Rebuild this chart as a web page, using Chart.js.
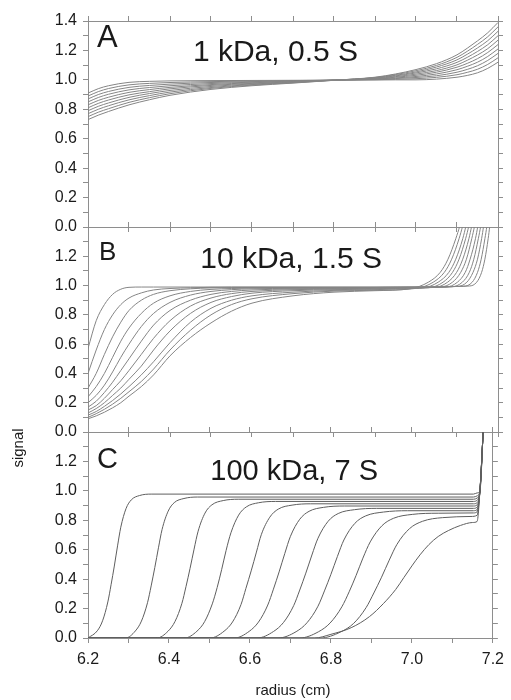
<!DOCTYPE html>
<html>
<head>
<meta charset="utf-8">
<script src="https://cdn.jsdelivr.net/npm/chart.js@4.4.1/dist/chart.umd.min.js"></script>
<style>
  html, body { margin: 0; padding: 0; background: #fff; }
  #wrap { position: relative; width: 511px; height: 700px; background: #fff; }
  #wrap canvas { position: absolute; left: 0; top: 0; }
</style>
</head>
<body>
<div id="wrap">
  <canvas id="panelA" width="511" height="700"></canvas>
  <canvas id="panelB" width="511" height="700"></canvas>
  <canvas id="panelC" width="511" height="700"></canvas>
</div>
<script>
// ---- tick labels ----
const radiusLabels = ['6.2', '6.4', '6.6', '6.8', '7.0', '7.2'];
const signalLabelsTop = ['0.0', '0.2', '0.4', '0.6', '0.8', '1.0', '1.2', '1.4'];
const signalLabels = ['0.0', '0.2', '0.4', '0.6', '0.8', '1.0', '1.2'];

// ---- panel A: 1 kDa, 0.5 S (scans on a shared radius grid) ----
const radiusA = [6.20, 6.225, 6.25, 6.30, 6.35, 6.40, 6.50, 6.60, 6.70, 6.80, 6.90, 6.95, 7.00, 7.05, 7.10, 7.125, 7.15, 7.175, 7.20];
const signalA = [
  [.910, .940, .960, .983, .990, .993, .995, .996, .997, .998, .999, 1.000, 1.000, 1.005, 1.018, 1.030, 1.048, 1.078, 1.120],
  [.890, .920, .941, .966, .976, .982, .988, .992, .995, .998, 1.001, 1.004, 1.008, 1.017, 1.035, 1.051, 1.072, 1.105, 1.150],
  [.870, .900, .921, .949, .962, .971, .982, .988, .993, .998, 1.003, 1.009, 1.016, 1.028, 1.052, 1.071, 1.096, 1.132, 1.180],
  [.850, .880, .902, .932, .948, .960, .975, .984, .991, .998, 1.005, 1.013, 1.023, 1.040, 1.069, 1.092, 1.120, 1.159, 1.210],
  [.830, .860, .882, .915, .934, .949, .968, .980, .989, .998, 1.007, 1.018, 1.031, 1.052, 1.086, 1.112, 1.144, 1.186, 1.240],
  [.810, .840, .863, .898, .920, .939, .962, .976, .986, .998, 1.010, 1.022, 1.039, 1.063, 1.102, 1.133, 1.169, 1.212, 1.270],
  [.790, .820, .843, .881, .907, .928, .955, .972, .984, .998, 1.012, 1.027, 1.047, 1.075, 1.119, 1.153, 1.193, 1.239, 1.300],
  [.770, .800, .824, .864, .893, .917, .948, .968, .982, .998, 1.014, 1.031, 1.054, 1.087, 1.136, 1.174, 1.217, 1.266, 1.330],
  [.750, .780, .804, .847, .879, .906, .942, .964, .980, .997, 1.016, 1.036, 1.062, 1.098, 1.153, 1.194, 1.241, 1.293, 1.360],
  [.730, .760, .785, .830, .865, .895, .935, .960, .978, .997, 1.018, 1.040, 1.070, 1.110, 1.170, 1.215, 1.265, 1.320, 1.390]
];

// ---- panel B: 10 kDa, 1.5 S ----
// meniscus side on a shared grid, cell-bottom side as [radius, signal] pairs per scan
const radiusB = [6.20, 6.22, 6.24, 6.26, 6.28, 6.30, 6.33, 6.36, 6.40, 6.45, 6.50, 6.55, 6.60, 6.70, 6.80];
const signalB = [
  [.570, .760, .870, .940, .975, .988, .990, .990, .990, .990, .990, .990, .990, .990, .990],
  [.400, .560, .700, .800, .870, .915, .950, .970, .980, .985, .988, .989, .989, .989, .989],
  [.300, .400, .530, .650, .750, .830, .900, .940, .965, .978, .984, .986, .987, .987, .986],
  [.240, .310, .400, .510, .620, .710, .810, .880, .930, .960, .974, .980, .983, .984, .984],
  [.200, .250, .320, .410, .510, .600, .720, .810, .885, .935, .960, .972, .978, .981, .982],
  [.170, .210, .270, .340, .420, .500, .620, .730, .830, .900, .940, .960, .970, .977, .979],
  [.150, .180, .230, .290, .350, .420, .530, .640, .760, .860, .915, .945, .960, .972, .976],
  [.130, .160, .200, .250, .300, .360, .450, .560, .690, .810, .885, .925, .948, .965, .972],
  [.115, .140, .175, .215, .260, .310, .390, .480, .610, .750, .845, .900, .930, .955, .967],
  [.100, .125, .155, .190, .230, .275, .345, .430, .560, .695, .800, .870, .910, .945, .962],
  [.090, .110, .135, .165, .200, .245, .310, .390, .520, .645, .745, .825, .880, .930, .955]
];
const bottomB = [
  [[6.90, .990], [7.00, .991], [7.130, .997], [7.148, 1.023], [7.160, 1.09], [7.168, 1.18], [7.176, 1.32], [7.180, 1.41], [7.190, 1.7]],
  [[6.90, .989], [7.00, .990], [7.116, .995], [7.137, 1.023], [7.150, 1.09], [7.159, 1.18], [7.168, 1.32], [7.173, 1.41], [7.184, 1.7]],
  [[6.90, .987], [7.00, .989], [7.101, .994], [7.124, 1.023], [7.139, 1.09], [7.150, 1.18], [7.160, 1.32], [7.165, 1.41], [7.178, 1.7]],
  [[6.90, .985], [7.00, .988], [7.087, .992], [7.113, 1.023], [7.130, 1.09], [7.141, 1.18], [7.152, 1.32], [7.158, 1.41], [7.172, 1.7]],
  [[6.90, .983], [7.00, .987], [7.073, .990], [7.101, 1.023], [7.120, 1.09], [7.132, 1.18], [7.145, 1.32], [7.151, 1.41], [7.167, 1.7]],
  [[6.90, .981], [7.00, .986], [7.058, .989], [7.089, 1.023], [7.109, 1.09], [7.123, 1.18], [7.136, 1.32], [7.143, 1.41], [7.160, 1.7]],
  [[6.90, .979], [7.00, .985], [7.044, .987], [7.077, 1.023], [7.099, 1.09], [7.114, 1.18], [7.129, 1.32], [7.136, 1.41], [7.154, 1.7]],
  [[6.90, .976], [7.00, .983], [7.030, .985], [7.066, 1.023], [7.089, 1.09], [7.105, 1.18], [7.121, 1.32], [7.129, 1.41], [7.149, 1.7]],
  [[6.90, .972], [7.00, .981], [7.016, .983], [7.054, 1.023], [7.080, 1.09], [7.097, 1.18], [7.114, 1.32], [7.122, 1.41], [7.143, 1.7]],
  [[6.90, .968], [7.001, .981], [7.042, 1.023], [7.069, 1.09], [7.087, 1.18], [7.105, 1.32], [7.114, 1.41], [7.137, 1.7]],
  [[6.90, .965], [6.987, .979], [7.030, 1.023], [7.059, 1.09], [7.078, 1.18], [7.097, 1.32], [7.107, 1.41], [7.131, 1.7]]
];

// ---- panel C: 100 kDa, 7 S (boundary scans as [radius, signal] pairs) ----
const scansC = [
  [[6.2, 0], [6.223, .049], [6.236, .117], [6.249, .245], [6.257, .362], [6.265, .489], [6.273, .626], [6.281, .753], [6.294, .880], [6.307, .939], [6.327, .968], [6.356, .978], [7.152, .978], [7.161, .986], [7.168, 1.0], [7.176, 1.4], [7.186, 1.9]],
  [[6.2, 0], [6.293, 0], [6.317, .048], [6.332, .115], [6.347, .240], [6.356, .354], [6.365, .479], [6.374, .613], [6.383, .738], [6.398, .862], [6.413, .920], [6.437, .948], [6.470, .958], [7.152, .958], [7.161, .966], [7.168, 1.0], [7.176, 1.4], [7.186, 1.9]],
  [[6.2, 0], [6.370, 0], [6.398, .047], [6.415, .113], [6.432, .236], [6.442, .349], [6.452, .472], [6.462, .604], [6.472, .726], [6.489, .849], [6.506, .905], [6.534, .934], [6.571, .943], [7.152, .943], [7.161, .951], [7.168, 1.0], [7.176, 1.4], [7.186, 1.9]],
  [[6.2, 0], [6.439, 0], [6.469, .046], [6.488, .111], [6.507, .232], [6.519, .343], [6.530, .464], [6.541, .594], [6.553, .715], [6.572, .835], [6.591, .891], [6.621, .919], [6.663, .928], [7.152, .928], [7.161, .936], [7.168, 1.0], [7.176, 1.4], [7.186, 1.9]],
  [[6.2, 0], [6.502, 0], [6.536, .046], [6.557, .109], [6.578, .228], [6.590, .337], [6.603, .456], [6.616, .584], [6.628, .702], [6.649, .821], [6.670, .876], [6.704, .903], [6.750, .912], [7.152, .912], [7.161, .920], [7.168, 1.0], [7.176, 1.4], [7.186, 1.9]],
  [[6.2, 0], [6.562, 0], [6.598, .045], [6.621, .108], [6.644, .224], [6.658, .332], [6.672, .449], [6.686, .574], [6.700, .691], [6.723, .807], [6.746, .861], [6.782, .888], [6.833, .897], [7.152, .897], [7.161, .905], [7.168, 1.0], [7.176, 1.4], [7.186, 1.9]],
  [[6.2, 0], [6.618, 0], [6.658, .044], [6.683, .106], [6.708, .220], [6.723, .326], [6.738, .441], [6.753, .564], [6.768, .678], [6.793, .793], [6.818, .846], [6.858, .872], [6.913, .881], [7.152, .881], [7.161, .889], [7.168, 1.0], [7.176, 1.4], [7.186, 1.9]],
  [[6.2, 0], [6.670, 0], [6.714, .043], [6.741, .104], [6.768, .216], [6.784, .320], [6.800, .433], [6.816, .554], [6.832, .666], [6.859, .779], [6.886, .830], [6.930, .856], [6.989, .865], [7.152, .865], [7.161, .873], [7.168, 1.0], [7.176, 1.4], [7.186, 1.9]],
  [[6.2, 0], [6.723, 0], [6.769, .042], [6.798, .102], [6.827, .212], [6.845, .314], [6.862, .424], [6.879, .543], [6.897, .653], [6.926, .763], [6.955, .814], [7.001, .840], [7.065, .848], [7.152, .850], [7.161, .858], [7.168, 1.0], [7.176, 1.4], [7.186, 1.9]],
  [[6.2, 0], [6.774, 0], [6.824, .041], [6.856, .099], [6.887, .207], [6.906, .306], [6.925, .413], [6.944, .529], [6.963, .636], [6.994, .743], [7.026, .793], [7.076, .818], [7.146, .826], [7.161, .834], [7.168, 1.0], [7.176, 1.4], [7.186, 1.9]],
  [[6.2, 0], [6.760, 0], [6.800, .025], [6.850, .070], [6.895, .145], [6.930, .235], [6.960, .330], [6.980, .410], [7.000, .490], [7.020, .565], [7.042, .635], [7.065, .690], [7.090, .730], [7.120, .765], [7.150, .785], [7.161, .792], [7.168, 1.0], [7.176, 1.4], [7.186, 1.9]]
];

// ---- styling ----
const FRAME = '#8e8e8e';
const TEXT = '#1a1a1a';
const FONT = "'Liberation Sans', Arial, Helvetica, sans-serif";

function toPoints(pairs) {
  return pairs.map(p => ({ x: p[0], y: p[1] }));
}

function scanDataset(points, color) {
  return {
    data: points,
    borderColor: color,
    borderWidth: 1,
    pointRadius: 0,
    fill: false,
    cubicInterpolationMode: 'monotone'
  };
}

function frameScale(extra) {
  return Object.assign({
    type: 'linear',
    grid: { drawOnChartArea: false, drawTicks: true, tickLength: 5, color: FRAME, tickColor: FRAME, lineWidth: 1 },
    border: { display: true, color: FRAME, width: 1 }
  }, extra);
}

function pickLabel(list) {
  return v => {
    const t = v.toFixed(1);
    return list.includes(t) ? t : '';
  };
}

// text drawn inside / around a panel: panel letter, panel title, axis titles
const panelText = {
  id: 'panelText',
  afterDraw(chart, args, opts) {
    const ctx = chart.ctx;
    ctx.save();
    ctx.fillStyle = TEXT;
    (opts.items || []).forEach(t => {
      ctx.save();
      ctx.font = t.font;
      ctx.textAlign = t.align || 'left';
      ctx.textBaseline = t.baseline || 'alphabetic';
      ctx.translate(t.x, t.y);
      if (t.rotate) ctx.rotate(t.rotate);
      ctx.fillText(t.text, 0, 0);
      ctx.restore();
    });
    ctx.restore();
  }
};

function makePanel(id, datasets, area, yLabels, showRadius, items) {
  return new Chart(document.getElementById(id), {
    type: 'line',
    data: { datasets },
    plugins: [panelText],
    options: {
      responsive: false,
      animation: false,
      events: [],
      layout: { padding: 0 },
      plugins: {
        legend: { display: false },
        tooltip: { enabled: false },
        panelText: { items }
      },
      scales: {
        x: frameScale({
          axis: 'x', position: 'bottom', min: 6.2, max: 7.2,
          afterFit: s => { s.height = 700 - area.bottom; },
          ticks: {
            display: showRadius, stepSize: 0.1, autoSkip: false, maxRotation: 0, padding: 7,
            color: TEXT, font: { family: FONT, size: 16 }, callback: pickLabel(radiusLabels)
          }
        }),
        x2: frameScale({
          axis: 'x', position: 'top', min: 6.2, max: 7.2,
          afterFit: s => { s.height = area.top; },
          ticks: { display: false, stepSize: 0.1, autoSkip: false }
        }),
        y: frameScale({
          axis: 'y', position: 'left', min: 0, max: 1.4,
          afterFit: s => { s.width = area.left; },
          ticks: {
            stepSize: 0.1, autoSkip: false, padding: 6,
            color: TEXT, font: { family: FONT, size: 16 }, callback: pickLabel(yLabels)
          }
        }),
        y2: frameScale({
          axis: 'y', position: 'right', min: 0, max: 1.4,
          afterFit: s => { s.width = 511 - area.right; },
          ticks: { display: false, stepSize: 0.1, autoSkip: false }
        })
      }
    }
  });
}

const LINE_AB = '#858585';
const LINE_C = '#5e5e5e';

const datasetsA = signalA.map(row => scanDataset(row.map((v, i) => ({ x: radiusA[i], y: v })), LINE_AB));
const datasetsB = signalB.map((row, k) =>
  scanDataset(row.map((v, i) => ({ x: radiusB[i], y: v })).concat(toPoints(bottomB[k])), LINE_AB));
const datasetsC = scansC.map(scan => scanDataset(toPoints(scan), LINE_C));

makePanel('panelA', datasetsA, { left: 88, right: 498, top: 21, bottom: 227 }, signalLabelsTop, false, [
  { text: 'A', x: 97, y: 47, font: `31px ${FONT}` },
  { text: '1 kDa, 0.5 S', x: 358, y: 61, align: 'right', font: `30px ${FONT}` }
]);
makePanel('panelB', datasetsB, { left: 88, right: 498, top: 227, bottom: 432 }, signalLabels, false, [
  { text: 'B', x: 99, y: 260, font: `26px ${FONT}` },
  { text: '10 kDa, 1.5 S', x: 382, y: 268, align: 'right', font: `30px ${FONT}` }
]);
makePanel('panelC', datasetsC, { left: 88, right: 498, top: 432, bottom: 638 }, signalLabels, true, [
  { text: 'C', x: 97, y: 468, font: `29px ${FONT}` },
  { text: '100 kDa, 7 S', x: 378, y: 480, align: 'right', font: `29px ${FONT}` },
  { text: 'signal', x: 23, y: 448, align: 'center', rotate: -Math.PI / 2, font: `15px ${FONT}` },
  { text: 'radius (cm)', x: 293, y: 695, align: 'center', font: `15px ${FONT}` }
]);
</script>
</body>
</html>
